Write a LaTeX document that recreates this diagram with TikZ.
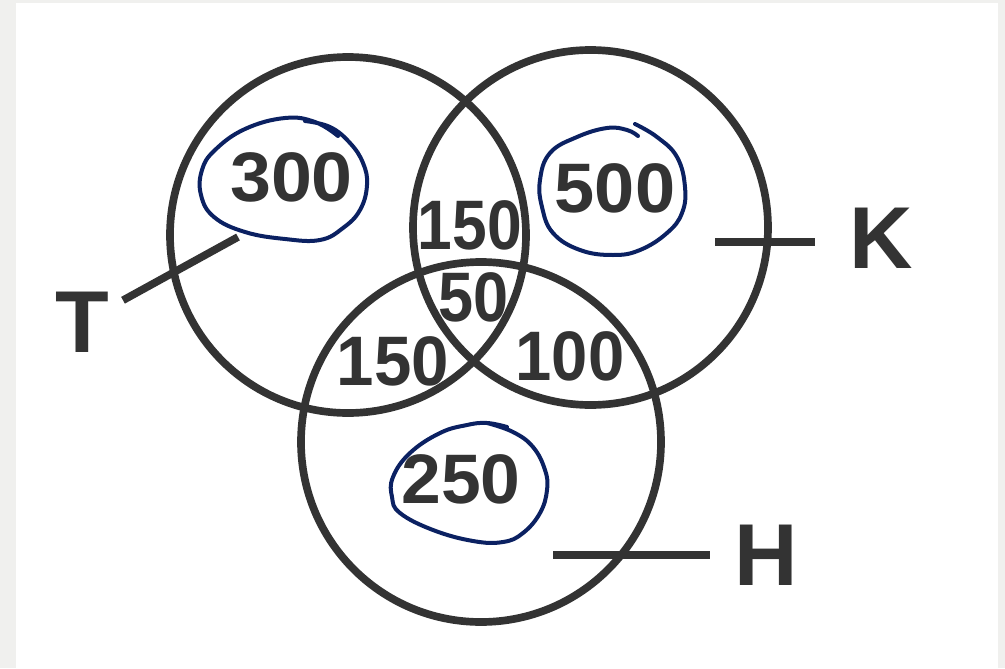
\documentclass[tikz,border=0pt]{standalone}
\usepackage{fontspec}
\setmainfont{Liberation Sans}
\definecolor{ink}{HTML}{333333}
\definecolor{pen}{HTML}{0B2162}
\definecolor{frame}{HTML}{F0F0EE}

\begin{document}
\begin{tikzpicture}[x=0.3mm, y=-0.3mm,
  set/.style={circle, draw=ink, line width=2.3mm, inner sep=0pt},
  num/.style={text=ink, inner sep=0pt, font=\bfseries\fontsize{59.8}{60}\selectfont},
  setname/.style={text=ink, inner sep=0pt, font=\bfseries\fontsize{75}{76}\selectfont},
  leader/.style={draw=ink, line width=2.3mm},
  loop/.style={draw=pen, line width=1.2mm, line cap=round, line join=round}]
  % background
  \fill[frame] (0,0) rectangle (1005,668);
  \fill[white] (16,3) rectangle (998,668);
  \useasboundingbox (0,0) rectangle (1005,668);
  % circles
  \node[set, minimum size=106.8mm] (T) at (348,235) {};
  \node[set, minimum size=106.5mm] (K) at (590.5,227.5) {};
  \node[set, minimum size=108mm] (H) at (481,442) {};
  % counts
  \foreach \nm/\px/\py/\sx/\val in {tonly/291.5/177.5/1.05/300,
      konly/615/188/1.03/500, tk/470/225/0.89/150, tkh/474/297/0.9/50,
      th/393/361/0.96/150, kh/570/356/0.93/100, honly/461/479/1.02/250}
    \node[num] (\nm) at (\px,\py) {\scalebox{\sx}[1]{\val}};
  % set names
  \node[setname] (Tlab) at (82.5,322.5) {T};
  \node[setname] (Klab) at (881,238.5) {K};
  \node[setname] (Hlab) at (766.5,555) {H};
  \coordinate (Tin) at (238,237);
  \coordinate (Kin) at (715,242);
  \coordinate (Hin) at (553,555);
  \draw[leader, shorten <=4.6mm] (Tlab) -- (Tin);
  \draw[leader, shorten >=10.2mm] (Kin) -- (Kin -| Klab.west);
  \draw[leader, shorten <=7.5mm] (Hlab) -- (Hin);
  % pen loops
  \draw[loop] plot[smooth, tension=0.7] coordinates {(305,121) (330,127)
    (350,143) (363,163) (367,185) (360,210) (343,228) (320,240) (285,239)
    (245,232) (214,217) (201,195) (202,170) (215,150) (245,129) (285,118)
    (315,122) (338,136)};
  \draw[loop] plot[smooth, tension=0.7] coordinates {(635,124) (657,137)
    (677,157) (685,187) (682,213) (667,233) (640,250) (613,255) (580,250)
    (553,233) (542,207) (540,180) (550,153) (577,137) (607,128) (627,130)
    (638,136)};
  \draw[loop] plot[smooth, tension=0.7] coordinates {(487,423) (513,432)
    (533,447) (545,470) (547,490) (540,513) (523,533) (503,542) (473,541)
    (433,530) (400,513) (392,497) (393,477) (410,453) (440,433) (467,425)
    (487,423) (507,427)};
\end{tikzpicture}
\end{document}
